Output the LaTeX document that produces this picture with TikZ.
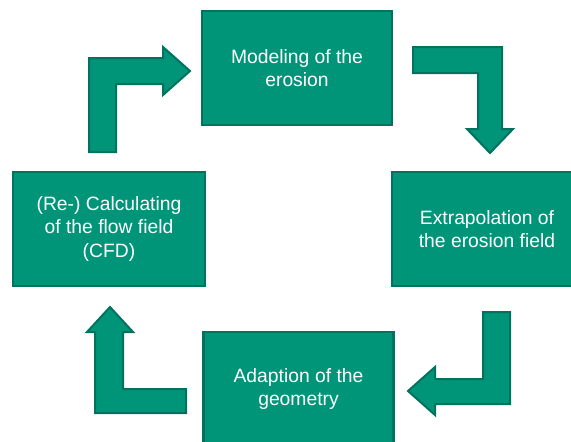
\documentclass[tikz,border=0pt]{standalone}
\usepackage{fontspec}
\setmainfont{Liberation Sans}
\usepackage{tikz}
\usetikzlibrary{positioning}
\definecolor{Teal}{HTML}{009479}
\definecolor{TealDark}{HTML}{00735E}

\begin{document}
\begin{tikzpicture}[x=1pt,y=-1pt,
    stepbox/.style={draw=TealDark,fill=Teal,line width=2.2pt,minimum width=190pt,minimum height=114pt,
      text=white,align=center,font=\fontsize{19.3}{23.5}\selectfont,inner sep=0pt},
    bent/.style={draw=TealDark,fill=Teal,line width=2pt,line join=miter}]
        \path[use as bounding box,clip] (0,0) rectangle (571,442);
        % the four steps
        \node[stepbox] (model) at (297,68) {Modeling of the\\erosion};
        \node[stepbox] (extra) at (487,229) {Extrapolation of\\the erosion field};
        \node[stepbox] (adapt) at (298.5,389) {Adaption of the\\geometry};
        \node[stepbox,minimum width=192pt] (cfd) at (109,229) {(Re-) Calculating\\of the flow field\\(CFD)};
        % bent arrows between them
        \draw[bent] (89,152)--(89,58)--(163,58)--(163,47)--(190,71)--(163,95)--(163,84)--(116,84)--(116,152)--cycle;
        \draw[bent] (413,47)--(502,47)--(502,129)--(513,129)--(490,153)--(467,129)--(478,129)--(478,73)--(413,73)--cycle;
        \draw[bent] (483,312)--(510,312)--(510,404)--(435,404)--(435,415)--(408,391)--(435,367)--(435,379)--(483,379)--cycle;
        \draw[bent] (186,413)--(95,413)--(95,332)--(87,332)--(110,307)--(133,332)--(123,332)--(123,389)--(186,389)--cycle;
      \end{tikzpicture}
\end{document}
